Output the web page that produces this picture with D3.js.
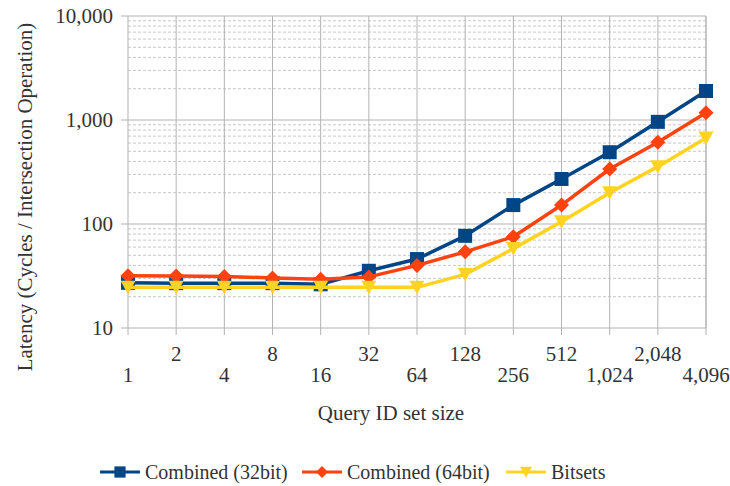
<!DOCTYPE html>
<html>
<head>
<meta charset="utf-8">
<script src="https://cdn.jsdelivr.net/npm/d3@7"></script>
<style>
  body { margin: 0; background: #fff; }
  text { font-family: "Liberation Serif", "DejaVu Serif", serif; fill: #333; }
</style>
</head>
<body>
<svg id="chart" width="730" height="486"></svg>
<script>
// query ID set sizes
const sizes = [1, 2, 4, 8, 16, 32, 64, 128, 256, 512, 1024, 2048, 4096];
const combined32 = [27.2, 27, 27, 27, 26.3, 35.5, 46, 77, 152, 271, 490, 960, 1900];
const combined64 = [31.8, 31.6, 31.3, 30.3, 29.5, 31, 40, 54, 75.5, 152, 338, 611, 1175];
const bitsets = [24.6, 24.6, 24.6, 24.6, 24.6, 24.6, 24.6, 32.8, 58, 105, 200, 356, 670];
const yTicks = [10, 100, 1000, 10000];

const seriesList = [
    {name: "Combined (32bit)", values: combined32, color: "#004586", shape: "M-7,-7L7,-7L7,7L-7,7Z"},
    {name: "Combined (64bit)", values: combined64, color: "#ff420e", shape: "M0,-7.5L7.5,0L0,7.5L-7.5,0Z"},
    {name: "Bitsets", values: bitsets, color: "#ffd320", shape: "M-7.5,-6.5L7.5,-6.5L0,7Z"}
];

const margin = {top: 16, right: 24, bottom: 158, left: 128};
const width = 730 - margin.left - margin.right;
const height = 486 - margin.top - margin.bottom;

const svg = d3.select("#chart");
const g = svg.append("g")
    .attr("transform", "translate(" + margin.left + "," + margin.top + ")");

const x = d3.scalePoint()
    .domain(sizes)
    .range([0, width]);

const y = d3.scaleLog()
    .domain([10, 10000])
    .range([height, 0]);

// minor dashed gridlines
const minor = [];
for (let dec = 10; dec < 10000; dec *= 10) {
    for (let k = 2; k <= 9; k++) minor.push(dec * k);
}
g.selectAll(".minor")
    .data(minor)
    .enter().append("line")
        .attr("x1", 0)
        .attr("x2", width)
        .attr("y1", d => y(d))
        .attr("y2", d => y(d))
        .attr("stroke", "#c8c8c8")
        .attr("stroke-width", 1)
        .attr("stroke-dasharray", "3,2")

// major gridlines
g.selectAll(".vgrid")
    .data(sizes)
    .enter().append("line")
        .attr("x1", d => x(d))
        .attr("x2", d => x(d))
        .attr("y1", 0)
        .attr("y2", height + 7)
        .attr("stroke", "#b3b3b3")
        .attr("stroke-width", 1)

g.selectAll(".hgrid")
    .data(yTicks)
    .enter().append("line")
        .attr("x1", -7)
        .attr("x2", width)
        .attr("y1", d => y(d))
        .attr("y2", d => y(d))
        .attr("stroke", "#b3b3b3")
        .attr("stroke-width", 1)

g.append("line")
    .attr("x1", width).attr("x2", width)
    .attr("y1", 0).attr("y2", height)
    .attr("stroke", "#b3b3b3")

// y tick labels
g.selectAll(".ylab")
    .data(yTicks)
    .enter().append("text")
        .attr("x", -15)
        .attr("y", d => y(d))
        .attr("dy", "0.33em")
        .attr("text-anchor", "end")
        .style("font-size", "21px")
        .text(d => d3.format(",")(d))

// x tick labels, staggered on two rows
g.selectAll(".xlab")
    .data(sizes)
    .enter().append("text")
        .attr("x", d => x(d))
        .attr("y", (d, i) => i % 2 == 0 ? height + 54 : height + 33)
        .attr("text-anchor", "middle")
        .style("font-size", "21px")
        .text(d => d3.format(",")(d))

// series
const line = d3.line()
    .x((d, i) => x(sizes[i]))
    .y(d => y(d));

seriesList.forEach(function(s) {
    g.append("path")
        .datum(s.values)
        .attr("d", line)
        .attr("fill", "none")
        .attr("stroke", s.color)
        .attr("stroke-width", 3.5)
        .attr("stroke-linejoin", "round")

    g.selectAll(null)
        .data(s.values)
        .enter().append("path")
            .attr("transform", (d, i) => "translate(" + x(sizes[i]) + "," + y(d) + ")")
            .attr("d", s.shape)
            .attr("fill", s.color)
});

// axis titles
svg.append("text")
    .attr("transform", "translate(32,197) rotate(-90)")
    .attr("text-anchor", "middle")
    .style("font-size", "21px")
    .text("Latency (Cycles / Intersection Operation)")

svg.append("text")
    .attr("x", 391)
    .attr("y", 420)
    .attr("text-anchor", "middle")
    .style("font-size", "21px")
    .text("Query ID set size")

// legend
const legendX = [100, 302, 506];
const legend = svg.selectAll(".legend")
    .data(seriesList)
    .enter().append("g")
        .attr("transform", (d, i) => "translate(" + legendX[i] + ",472)")

legend.append("line")
    .attr("x1", 0).attr("x2", 40)
    .attr("y1", 0).attr("y2", 0)
    .attr("stroke", d => d.color)
    .attr("stroke-width", 3)

legend.append("path")
    .attr("transform", "translate(20,0) scale(0.8)")
    .attr("d", d => d.shape)
    .attr("fill", d => d.color)

legend.append("text")
    .attr("x", 45)
    .attr("y", 0)
    .attr("dy", "0.33em")
    .style("font-size", "20px")
    .text(d => d.name)
</script>
</body>
</html>
